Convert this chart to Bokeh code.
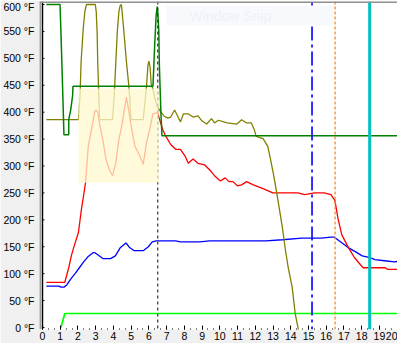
from bokeh.plotting import figure
from bokeh.models import Span, BoxAnnotation, Label, FixedTicker
from bokeh.embed import file_html
from bokeh.resources import INLINE

# ---------------- data ----------------
x_ticks = list(range(0, 21))
x_tick_labels = [str(v) for v in x_ticks]
x_minor_ticks = [i / 3 for i in range(0, 61)]

y_ticks = [0, 50, 100, 150, 200, 250, 300, 350, 400, 450, 500, 550, 600]
y_tick_labels = ["0 °F", "50 °F", "100 °F", "150 °F", "200 °F", "250 °F", "300 °F",
                 "350 °F", "400 °F", "450 °F", "500 °F", "550 °F", "600 °F"]

# dark green (set temperature)
setpoint_t = [0.22, 0.99, 1.02, 1.08, 1.15, 1.21, 1.48, 1.48, 1.59, 1.70, 1.72,
              6.23, 6.32, 6.41, 6.47, 6.50, 6.56, 6.59, 6.65, 6.68, 6.74, 20.3]
setpoint_v = [600, 600, 569, 506, 428, 358, 358, 386, 404, 431, 448,
              448, 519, 580, 596, 587, 550, 488, 428, 397, 356, 356]

# olive
olive_t = [0.22, 2.03, 2.12, 2.18, 2.30, 2.39, 2.48, 2.98, 3.03, 3.08, 3.12, 3.18, 3.22,
           3.95, 4.04, 4.13, 4.22, 4.31, 4.38, 4.45, 4.49, 4.59, 4.73, 4.86, 4.92, 4.95, 5.00,
           5.68, 5.86, 5.95, 6.00, 6.07, 6.13, 6.23, 6.32, 6.48, 6.68,
           6.85, 7.07, 7.23, 7.45, 7.62, 7.78, 7.95, 8.22, 8.49, 8.77, 8.99, 9.26, 9.53,
           9.70, 9.92, 10.41, 10.96, 11.23, 11.51, 11.78, 11.95, 12.05, 12.44, 12.71,
           12.88, 13.04, 13.21, 13.37, 13.53, 13.70, 13.86, 14.08, 14.25, 14.41, 14.60]
olive_v = [386, 386, 433, 495, 556, 587, 600, 600, 587, 550, 488, 428, 386,
           386, 428, 488, 550, 587, 598, 600, 587, 550, 495, 452, 428, 404, 386,
           386, 446, 488, 495, 483, 452, 443, 428, 410, 400,
           393, 389, 391, 404, 393, 382, 397, 397, 391, 393, 384, 378, 388,
           380, 385, 380, 378, 386, 380, 380, 367, 355, 351, 336,
           309, 282, 250, 218, 185, 144, 111, 75, 26, 0, -35]

# red
red_t = [0.22, 1.26, 1.48, 1.64, 1.81, 2.03, 2.19, 2.36, 2.43, 2.58, 2.76, 2.94, 3.01,
         3.12, 3.22, 3.40, 3.58, 3.76, 3.95, 4.13, 4.31, 4.49, 4.73, 4.86, 5.04, 5.22,
         5.50, 5.68, 5.86, 6.04, 6.23, 6.50, 6.58, 6.79, 6.96, 7.23, 7.51, 7.78, 8.05,
         8.22, 8.49, 8.77, 9.15, 9.42, 9.70, 10.03, 10.30, 10.52, 10.74, 11.01, 11.23,
         11.51, 11.89, 12.44, 12.99, 13.15, 14.41, 14.79, 15.34, 15.89, 16.27, 16.49,
         16.66, 16.88, 17.26, 17.59, 17.92, 18.08, 19.34, 19.45, 20.3]
red_v = [84, 84, 111, 135, 154, 177, 218, 254, 269, 336, 367, 400, 404,
         400, 378, 349, 313, 294, 282, 305, 349, 378, 428, 404, 367, 336,
         318, 303, 342, 367, 397, 399, 389, 367, 355, 340, 331, 331, 318,
         305, 313, 305, 302, 293, 282, 272, 278, 271, 271, 263, 265,
         271, 265, 258, 250, 250, 250, 247, 250, 250, 247, 236,
         203, 172, 148, 130, 117, 111, 111, 108, 108]

# blue
blue_t = [0.22, 0.93, 1.04, 1.21, 1.37, 1.59, 1.86, 2.08, 2.30, 2.58, 2.85, 2.95,
          3.12, 3.40, 3.84, 4.11, 4.38, 4.71, 4.93, 5.15, 5.42, 5.70, 5.97, 6.19,
          6.41, 6.96, 7.51, 7.78, 8.05, 8.88, 9.42, 10.25, 11.34, 11.89, 12.60,
          13.53, 14.63, 15.73, 16.27, 16.44, 16.82, 17.26, 17.64, 18.03, 18.47,
          18.74, 19.29, 19.84, 20.3]
blue_v = [77, 77, 75, 75, 79, 90, 101, 111, 121, 132, 139, 139,
          135, 128, 128, 133, 148, 157, 148, 143, 143, 143, 150, 159,
          161, 161, 161, 159, 159, 159, 161, 161, 161, 161, 161,
          163, 166, 166, 168, 168, 159, 148, 141, 133, 130,
          126, 124, 122, 124]

# bright green
lime_t = [1.04, 1.26, 20.3]
lime_v = [0, 26, 26]

# event markers (time)
event_black = 6.5
event_blue = 15.2
event_orange = 16.5
event_cyan = 18.45

# highlighted zone
zone_t = [2.03, 6.55]
zone_v = [269, 444]

# ---------------- figure ----------------
FONT = "Liberation Sans"
X0, X1 = -0.168, 20.02
Y0, Y1 = -3.7, 605.6

p = figure(width=397, height=343, x_range=(X0, X1), y_range=(Y0, Y1),
           output_backend="svg", toolbar_location=None,
           min_border_left=36, min_border_right=0, min_border_top=1, min_border_bottom=14)
p.border_fill_color = "#f0f0f0"
p.background_fill_color = "white"
p.outline_line_color = None
p.xgrid.grid_line_color = None
p.ygrid.grid_line_color = None

# y axis
p.yaxis.ticker = FixedTicker(ticks=y_ticks)
p.yaxis.major_label_overrides = dict(zip(y_ticks, y_tick_labels))
p.yaxis.axis_line_color = None
p.yaxis.major_tick_in = 0
p.yaxis.major_tick_out = 0
p.yaxis.minor_tick_in = 0
p.yaxis.minor_tick_out = 0
p.yaxis.major_label_standoff = 5
p.yaxis.major_label_text_font = FONT
p.yaxis.major_label_text_font_size = "10.5px"
p.yaxis.major_label_text_color = "black"

# x axis
p.xaxis.ticker = FixedTicker(ticks=x_ticks, minor_ticks=x_minor_ticks)
p.xaxis.major_label_overrides = dict(zip(x_ticks, x_tick_labels))
p.xaxis.axis_line_color = None
p.xaxis.major_tick_in = 4
p.xaxis.major_tick_out = 0
p.xaxis.minor_tick_in = 1
p.xaxis.minor_tick_out = 0
p.xaxis.major_tick_line_color = "black"
p.xaxis.minor_tick_line_color = "black"
p.xaxis.major_label_standoff = 2
p.xaxis.major_label_text_font = FONT
p.xaxis.major_label_text_font_size = "10.5px"
p.xaxis.major_label_text_color = "black"

# series
p.line(lime_t, lime_v, line_color="#00ff00", line_width=1.7)
p.line(blue_t, blue_v, line_color="#0000ff", line_width=1.3)
p.line(red_t, red_v, line_color="#ff0000", line_width=1.3)
p.line(olive_t, olive_v, line_color="#808000", line_width=1.3)
p.line(setpoint_t, setpoint_v, line_color="#008000", line_width=1.5)

# y ticks beside the zero line
p.segment(x0=[0] * len(y_ticks), y0=y_ticks, x1=[0.11] * len(y_ticks), y1=y_ticks,
          line_color="black", line_width=1)

# markers
p.add_layout(Span(location=event_black, dimension="height", line_color="#303030",
                  line_width=1.2, line_dash="3 3"))
p.add_layout(BoxAnnotation(left=zone_t[0], right=zone_t[1], bottom=zone_v[0], top=zone_v[1],
                           fill_color="#fffacd", fill_alpha=0.75, line_color=None))
p.add_layout(Span(location=event_blue, dimension="height", line_color="#0000ff",
                  line_width=1.6, line_dash="14 4 3 4"))
p.add_layout(Span(location=event_orange, dimension="height", line_color="#f08a24",
                  line_width=1.3, line_dash="3 2"))
p.add_layout(Span(location=event_cyan, dimension="height", line_color="#00c0c0",
                  line_width=3))

# zero line and frame
p.add_layout(Span(location=0, dimension="height", line_color="black", line_width=1.5))
p.add_layout(Span(location=X0, dimension="height", line_color="#a0a0a0", line_width=3))
p.add_layout(Span(location=Y1, dimension="width", line_color="#909090", line_width=3))

# faint snipping-tool watermark
p.add_layout(BoxAnnotation(left=6.98, right=16.42, bottom=561, top=598,
                           fill_color="#f8f9fc", fill_alpha=1.0, line_color=None))
p.add_layout(Label(x=10.6, y=579, text="Window Snip", text_align="center",
                   text_baseline="middle", text_font=FONT, text_font_size="14px",
                   text_color="#eff1f7"))

open("out.html", "w").write(file_html(p, INLINE))
